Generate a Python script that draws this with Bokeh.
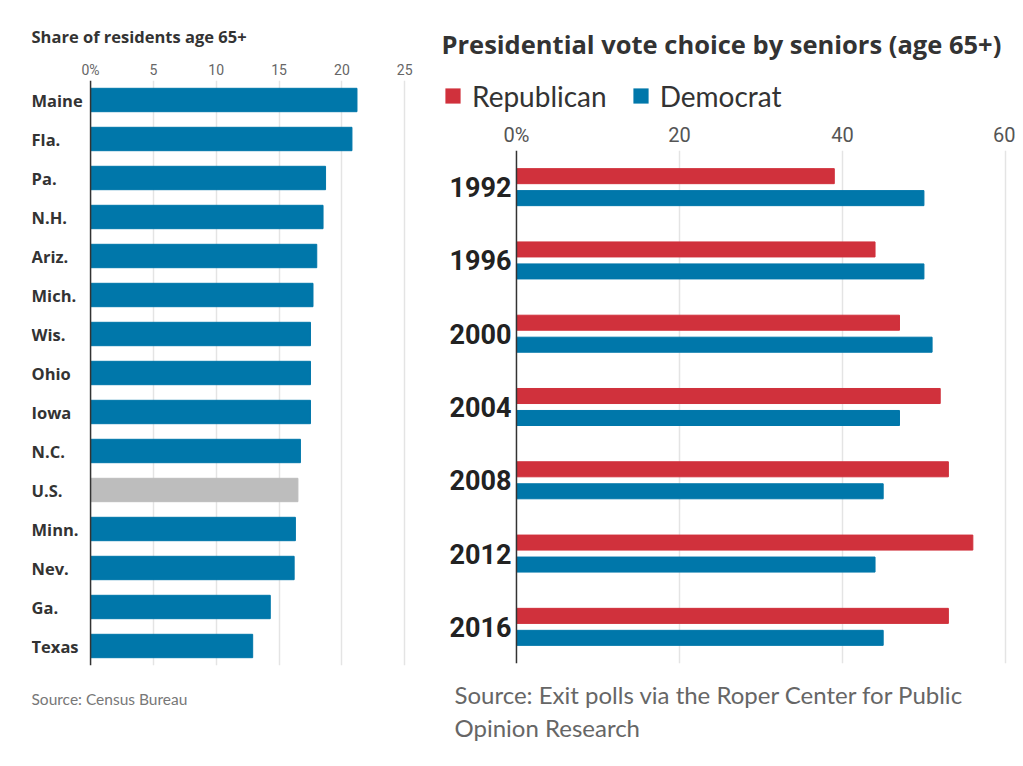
from bokeh.plotting import figure
from bokeh.models import (ColumnDataSource, FactorRange, Range1d, FixedTicker,
                          Legend, LegendItem, Title, Span)
from bokeh.core.properties import value
from bokeh.transform import dodge
from bokeh.layouts import row, column
from bokeh.embed import file_html
from bokeh.resources import INLINE

# ---- data: left chart ----
states = ["Maine", "Fla.", "Pa.", "N.H.", "Ariz.", "Mich.", "Wis.", "Ohio",
          "Iowa", "N.C.", "U.S.", "Minn.", "Nev.", "Ga.", "Texas"]
share_65 = [21.2, 20.8, 18.7, 18.5, 18.0, 17.7, 17.5, 17.5,
            17.5, 16.7, 16.5, 16.3, 16.2, 14.3, 12.9]
left_ticks = [0, 5, 10, 15, 20, 25]

# ---- data: right chart ----
years = ["1992", "1996", "2000", "2004", "2008", "2012", "2016"]
republican = [39, 44, 47, 52, 53, 56, 53]
democrat = [50, 50, 51, 47, 45, 44, 45]
right_ticks = [0, 20, 40, 60]
parties = ["Republican", "Democrat"]

BLUE = "#0077AA"
GRAY = "#BDBDBD"
RED = "#D0313C"
TXT = "#333333"
GRID = "#E4E4E4"
FONT = "Lato"
BOLDFONT = "Open Sans"
NUMFONT = "Roboto"

# ================= left figure =================
colors = [GRAY if s == "U.S." else BLUE for s in states]
src1 = ColumnDataSource(dict(state=states, share=share_65, color=colors,
                             zero=[0] * len(states)))

p1 = figure(width=428, height=750, y_range=FactorRange(*states[::-1]),
            x_range=Range1d(-4.70, 25.3), x_axis_location="above",
            output_backend="svg", toolbar_location=None,
            min_border_left=31, min_border_right=20,
            min_border_top=80, min_border_bottom=85)
p1.frame_align = False
p1.outline_line_color = None
p1.hbar(y="state", right="share", height=0.6, fill_color="color",
        line_color="color", source=src1)
p1.text(x="zero", y="state", text="state", source=src1, x_offset=-59,
        text_align="left", text_baseline="middle", text_font=value(BOLDFONT),
        text_font_style="bold", text_font_size="16.5px", text_color=TXT)
p1.add_layout(Span(location=0, dimension="height", line_color=TXT,
                   line_width=1.5))

p1.ygrid.visible = False
p1.yaxis.visible = False
p1.xgrid.ticker = FixedTicker(ticks=left_ticks[1:])
p1.xgrid.grid_line_color = GRID
p1.xgrid.grid_line_width = 1.5

p1.xaxis.ticker = FixedTicker(ticks=left_ticks)
p1.xaxis.major_label_overrides = {0: "0%"}
p1.xaxis.axis_line_color = None
p1.xaxis.major_tick_line_color = None
p1.xaxis.minor_tick_line_color = None
p1.xaxis.major_tick_out = 0
p1.xaxis.major_tick_in = 0
p1.xaxis.major_label_standoff = 3
p1.xaxis.major_label_text_font = NUMFONT
p1.xaxis.major_label_text_font_size = "14px"
p1.xaxis.major_label_text_color = "#666666"

p1.title.text = "Share of residents age 65+"
p1.title.text_font = BOLDFONT
p1.title.text_font_style = "bold"
p1.title.text_font_size = "16.5px"
p1.title.text_color = TXT
p1.title.align = "left"
p1.title.standoff = 21

p1.add_layout(Title(text="Source: Census Bureau", text_font=FONT,
                    text_font_style="normal", text_font_size="15.5px",
                    text_color="#777777", align="left", standoff=45), "below")

# ================= right chart data source =================
src2 = ColumnDataSource(dict(year=years, rep=republican, dem=democrat,
                             zero=[0] * len(years)))

# ================= right header (title + legend) =================
head = figure(width=587, height=119, x_range=Range1d(0, 1),
              y_range=Range1d(0, 1), x_axis_type=None, y_axis_type=None,
              output_backend="svg", toolbar_location=None,
              min_border_left=13, min_border_right=6,
              min_border_top=72, min_border_bottom=0)
head.frame_align = False
head.outline_line_color = None
head.grid.visible = False
# zero-height bars: they only lend their colours to the legend swatches
h_rep = head.hbar(y="zero", right="rep", height=0, fill_color=RED,
                  line_color=None, source=src2)
h_dem = head.hbar(y="zero", right="dem", height=0, fill_color=BLUE,
                  line_color=None, source=src2)
legend = Legend(items=[LegendItem(label=parties[0], renderers=[h_rep]),
                       LegendItem(label=parties[1], renderers=[h_dem])],
                orientation="horizontal", location="center_left",
                glyph_width=19, glyph_height=19, label_standoff=10,
                spacing=24, padding=0, margin=2,
                border_line_color=None, background_fill_alpha=0,
                label_text_font=FONT, label_text_font_size="28px",
                label_text_color=TXT)
head.add_layout(legend)

head.title.text = "Presidential vote choice by seniors (age 65+)"
head.title.text_font = BOLDFONT
head.title.text_font_style = "bold"
head.title.text_font_size = "25.5px"
head.title.text_color = TXT
head.title.align = "left"
head.title.standoff = 23

# ================= right figure =================
p2 = figure(width=587, height=644, y_range=FactorRange(*years[::-1]),
            x_range=Range1d(-9.2, 60.5), x_axis_location="above",
            title=None, output_backend="svg", toolbar_location=None,
            min_border_left=13, min_border_right=6,
            min_border_top=29, min_border_bottom=100)
p2.frame_align = False
p2.outline_line_color = None

p2.hbar(y=dodge("year", 0.15, range=p2.y_range), right="rep",
        height=0.205, fill_color=RED, line_color=RED, source=src2)
p2.hbar(y=dodge("year", -0.15, range=p2.y_range), right="dem",
        height=0.205, fill_color=BLUE, line_color=BLUE, source=src2)
p2.text(x="zero", y="year", text="year", source=src2, x_offset=-5,
        text_align="right", text_baseline="middle", text_font=value(NUMFONT),
        text_font_style="bold", text_font_size="27px", text_color="#222222")
p2.add_layout(Span(location=0, dimension="height", line_color=TXT,
                   line_width=1.5))

p2.ygrid.visible = False
p2.yaxis.visible = False
p2.xgrid.ticker = FixedTicker(ticks=right_ticks[1:])
p2.xgrid.grid_line_color = GRID
p2.xgrid.grid_line_width = 1.5

p2.xaxis.ticker = FixedTicker(ticks=right_ticks)
p2.xaxis.major_label_overrides = {0: "0%"}
p2.xaxis.axis_line_color = None
p2.xaxis.major_tick_line_color = None
p2.xaxis.minor_tick_line_color = None
p2.xaxis.major_tick_out = 0
p2.xaxis.major_tick_in = 0
p2.xaxis.major_label_standoff = 4
p2.xaxis.major_label_text_font = NUMFONT
p2.xaxis.major_label_text_font_size = "20px"
p2.xaxis.major_label_text_color = "#555555"

p2.add_layout(Title(text="Source: Exit polls via the Roper Center for Public\nOpinion Research",
                    text_font=FONT, text_font_style="normal",
                    text_font_size="24px", text_color="#666666",
                    text_line_height=1.15,
                    align="left", offset=13, standoff=29), "below")

layout = row(p1, column(head, p2))
open("out.html", "w").write(file_html(layout, INLINE))
